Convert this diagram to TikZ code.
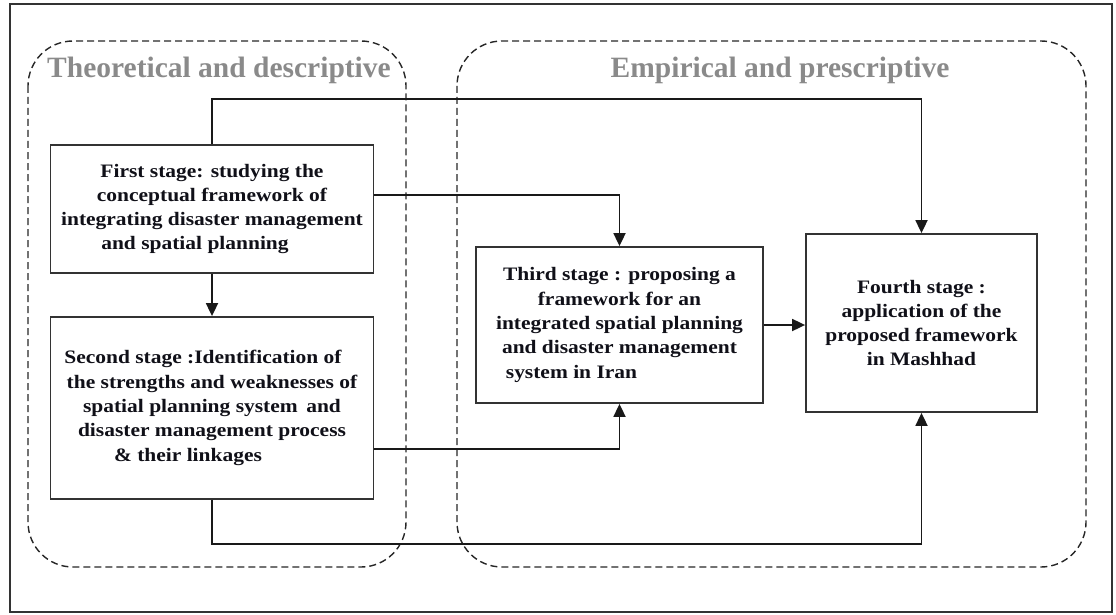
\documentclass[tikz,border=0pt]{standalone}
\usepackage{fontspec}
\setmainfont{Liberation Serif}
\newfontfamily\stagefont{Liberation Serif}[FakeStretch=1.13]
\usetikzlibrary{arrows.meta}
\definecolor{edgegray}{HTML}{333333}
\definecolor{titlegray}{HTML}{8A8A8A}
\definecolor{inkblack}{HTML}{101018}
\begin{document}
\begin{tikzpicture}[x=1pt,y=-1pt,
  stagebox/.style={draw=edgegray, line width=1.8pt, fill=white, inner sep=0pt,
    align=center, text=inkblack,
    font=\stagefont\bfseries\fontsize{19}{24.3}\selectfont},
  regionbox/.style={draw=black!85, line width=1.4pt, dash pattern=on 7pt off 4pt,
    rounded corners=45pt},
  regiontitle/.style={text=titlegray, font=\bfseries\fontsize{29.5}{33}\selectfont},
  link/.style={draw=black!90, line width=1.8pt},
  arrowlink/.style={link, -{Triangle[width=12pt,length=13pt]}},
  frame/.style={draw=black!80, line width=1.6pt}]

\useasboundingbox (0,0) rectangle (1116,615);
\draw[frame] (10,4) rectangle (1112,612);

% two study phases
\draw[regionbox] (28,41) rectangle (406,567);
\draw[regionbox] (457,41) rectangle (1086,567);
\node[regiontitle] (ttheo) at (219,70) {Theoretical and descriptive};
\node[regiontitle] (temp) at (780,70) {Empirical and prescriptive};

% routing levels for the long connectors
\coordinate (topbar) at (0,99);
\coordinate (botbar) at (0,544);

% stages
\node[stagebox, minimum width=323pt, minimum height=128pt] (first) at (212,209)
  {First stage: studying the\\ conceptual framework of\\ integrating disaster management\\ and spatial planning\hspace*{34pt}};
\node[stagebox, minimum width=323pt, minimum height=182pt] (second) at (212,408)
  {Second stage :Identification of\hspace*{18pt}\\ the strengths and weaknesses of\hspace*{8pt}\\ spatial planning system\, and\\ disaster management process\\ \& their linkages\hspace*{48pt}};
\node[stagebox, minimum width=287pt, minimum height=156pt] (third) at (619.5,325)
  {Third stage : proposing a\\ framework for an\\ integrated spatial planning\\ and disaster management\\ system in Iran\hspace*{96pt}};
\node[stagebox, minimum width=231pt, minimum height=178pt] (fourth) at (921.5,323)
  {Fourth stage :\\ application of the\\ proposed framework\\ in Mashhad};

% connectors
\draw[arrowlink] (first.north) -- (first.north |- topbar) -| (fourth.north);
\draw[arrowlink] ([yshift=14pt]first.east) -| (third.north);
\draw[arrowlink] (first.south) -- (second.north);
\draw[arrowlink] ([yshift=-41pt]second.east) -| (third.south);
\draw[arrowlink] (second.south) -- (second.south |- botbar) -| (fourth.south);
\draw[arrowlink] (third.east) -- (third.east -| fourth.west);
\end{tikzpicture}
\end{document}
